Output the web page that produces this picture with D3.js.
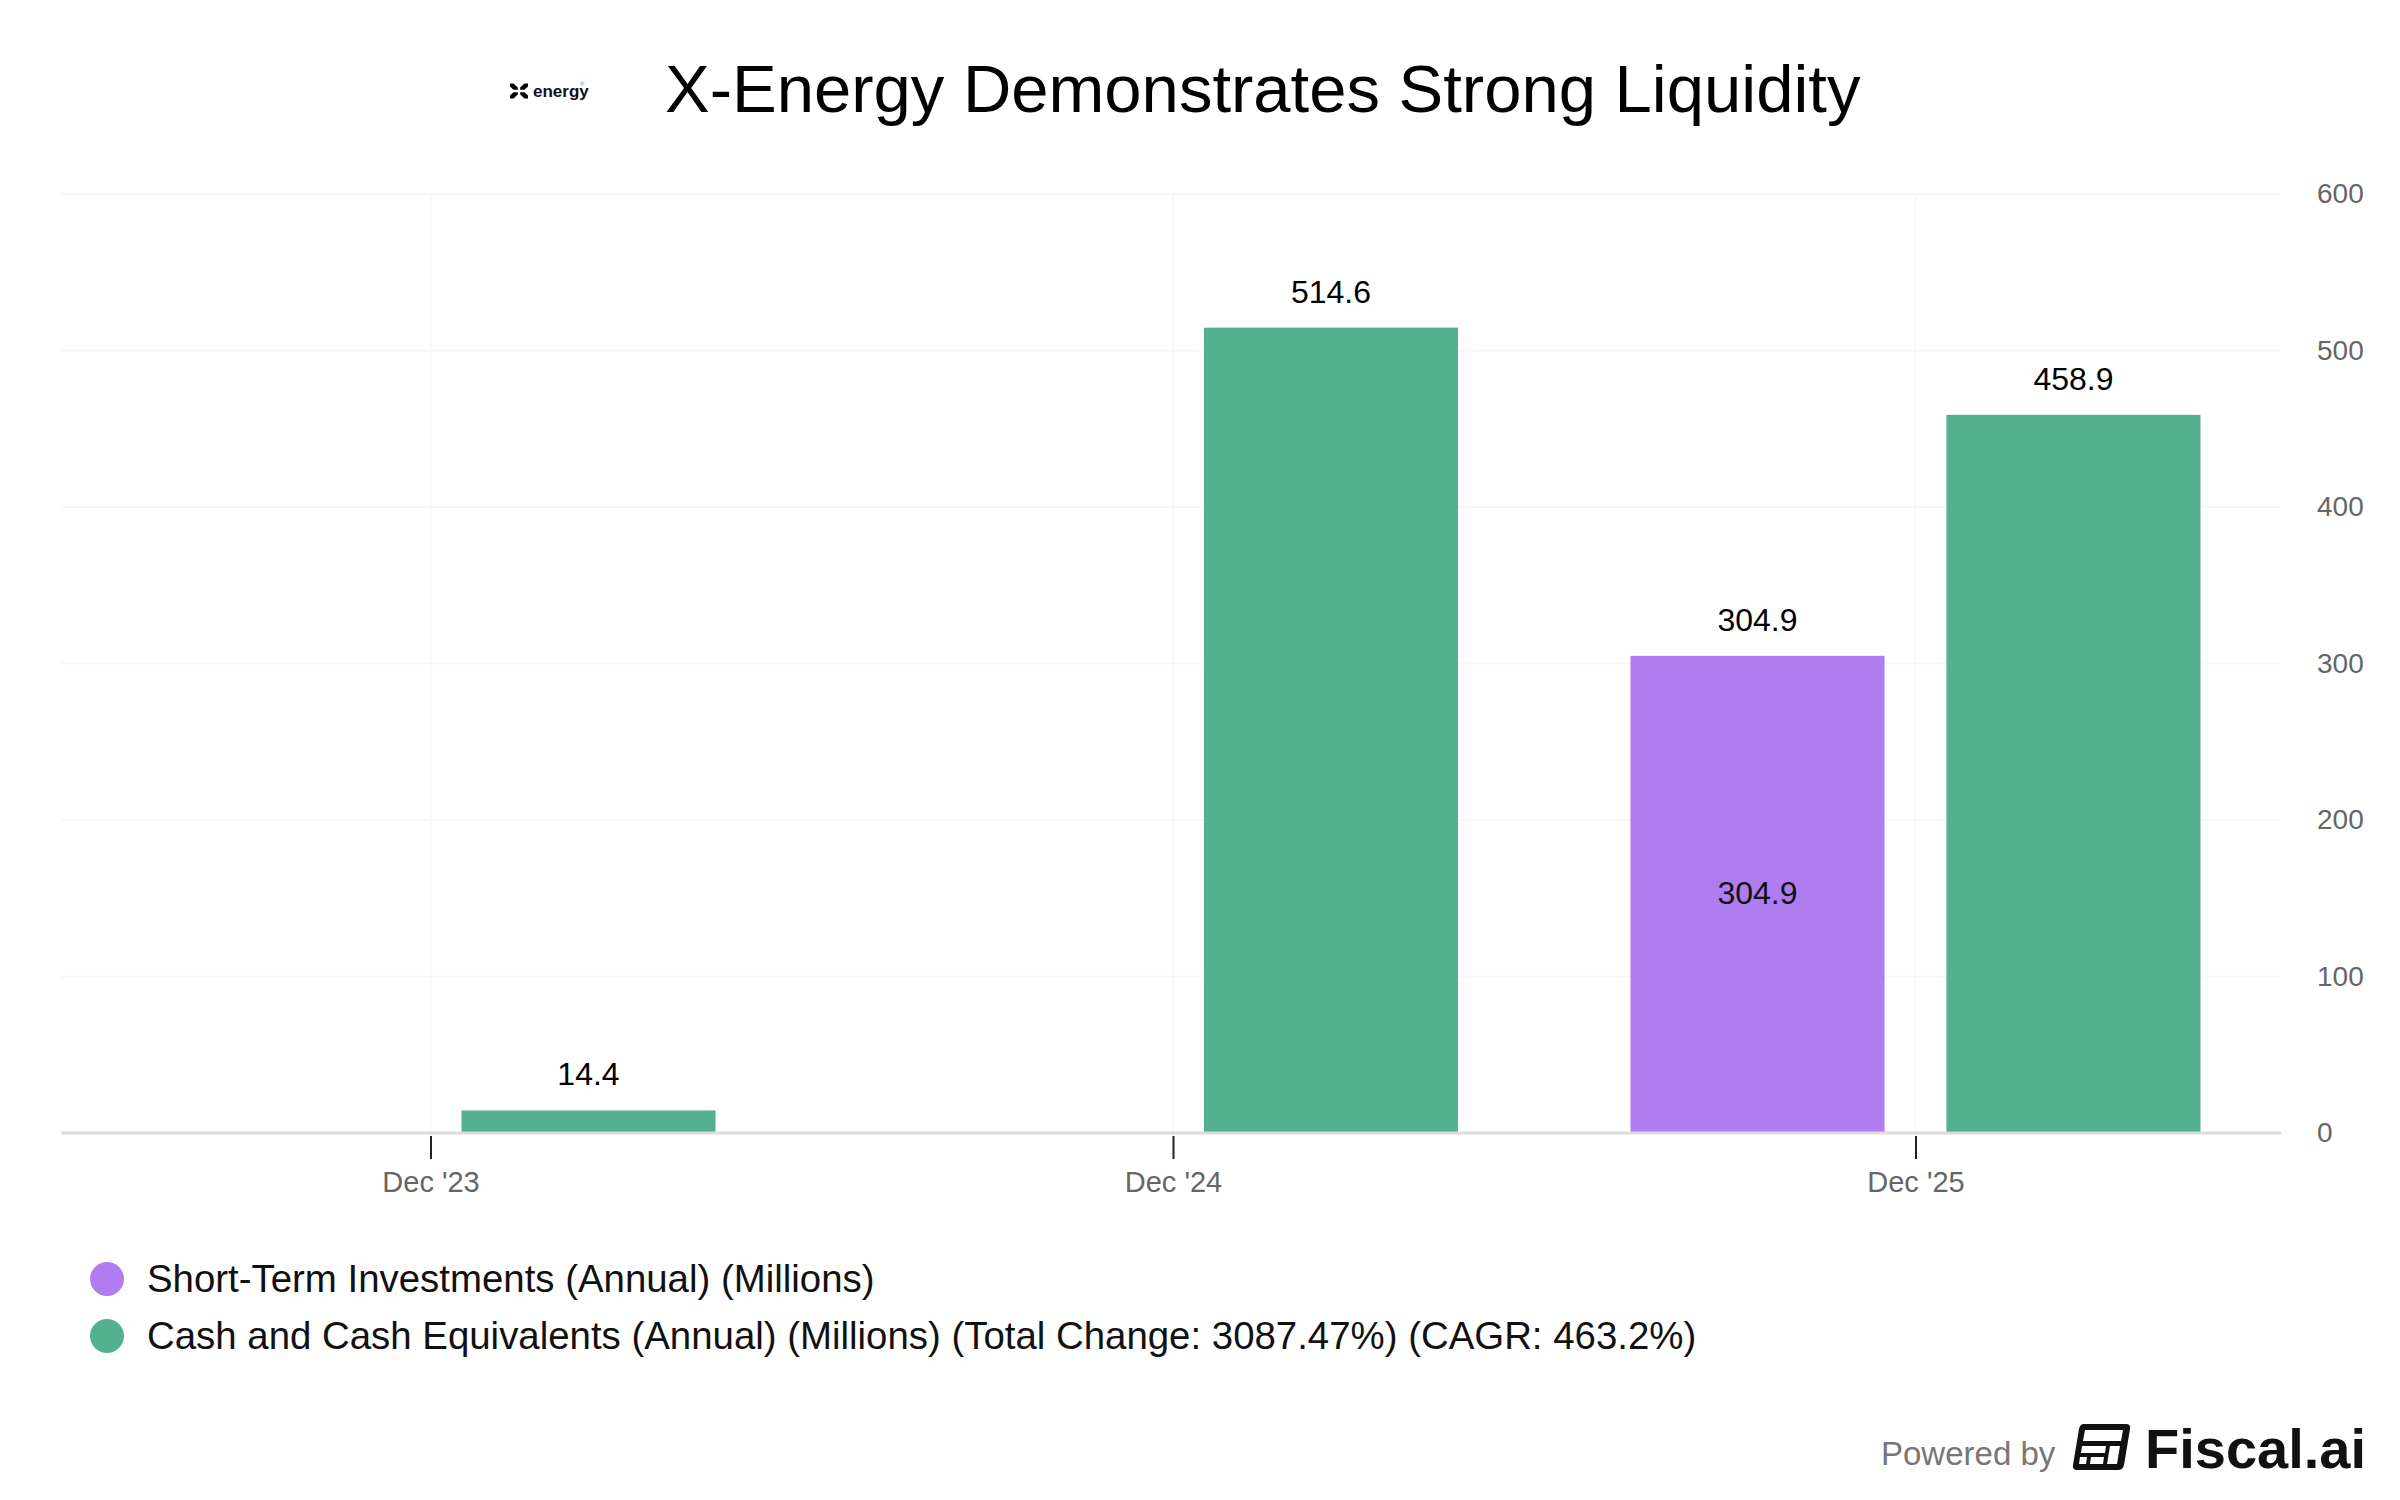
<!DOCTYPE html>
<html>
<head>
<meta charset="utf-8">
<script src="https://cdn.jsdelivr.net/npm/d3@7"></script>
<style>
  body { margin: 0; background: #fff; }
  svg { display: block; font-family: "Liberation Sans", Arial, Helvetica, sans-serif; }
</style>
</head>
<body>
<div id="chart"></div>
<script>
// chart data
const periods = ["Dec '23", "Dec '24", "Dec '25"];
const seriesNames = ['Short-Term Investments (Annual) (Millions)',
  'Cash and Cash Equivalents (Annual) (Millions) (Total Change: 3087.47%) (CAGR: 463.2%)'];
const shortTermValues = [null, null, 304.9];
const cashValues = [14.4, 514.6, 458.9];
const yTicks = [0, 100, 200, 300, 400, 500, 600];
const seriesColors = ['#af7def', '#53b18f'];

const W = 2400, H = 1500;
const margin = { top: 194, right: 119, bottom: 367, left: 61 };
const width = W - margin.left - margin.right;
const height = H - margin.top - margin.bottom;

const svg = d3.select('#chart').append('svg')
  .attr('width', W)
  .attr('height', H);

// title + logo
svg.append('text')
  .attr('x', 665)
  .attr('y', 112)
  .attr('font-size', 67)
  .attr('fill', '#000')
  .text('X-Energy Demonstrates Strong Liquidity');

const logo = svg.append('g').attr('transform', 'translate(519, 91)');
[[-1, -1], [1, -1], [-1, 1], [1, 1]].forEach(([sx, sy]) => {
  logo.append('path')
    .attr('d', `M${sx * 1.2},${sy * 1.2} L${sx * 5.5},${sy * 1.2} L${sx * 9},${sy * 4.5} L${sx * 9},${sy * 7.5} L${sx * 5.5},${sy * 7.5} L${sx * 1.2},${sy * 3.5} Z`)
    .attr('fill', '#000');
});
svg.append('text')
  .attr('x', 533).attr('y', 97)
  .attr('font-size', 17).attr('font-weight', 700)
  .attr('fill', '#111')
  .text('energy');
svg.append('text')
  .attr('x', 580).attr('y', 86)
  .attr('font-size', 6).attr('fill', '#777')
  .text('®');

const chart = svg.append('g')
  .attr('transform', `translate(${margin.left}, ${margin.top})`);

// scales
const x = d3.scalePoint()
  .domain(periods)
  .range([2, width + 2])
  .padding(0.495);
const inner = d3.scaleBand()
  .domain([0, 1])
  .range([-285, 285])
  .paddingInner(0.196);
const y = d3.scaleLinear()
  .domain([0, 600])
  .range([height, 0]);

// faint grid
chart.append('g')
  .selectAll('line')
  .data(yTicks.slice(1))
  .enter()
  .append('line')
  .attr('x1', 0).attr('x2', width)
  .attr('y1', d => y(d)).attr('y2', d => y(d))
  .attr('stroke', '#f7f7f7').attr('stroke-width', 2);
chart.append('g')
  .selectAll('line')
  .data(periods)
  .enter()
  .append('line')
  .attr('x1', d => x(d)).attr('x2', d => x(d))
  .attr('y1', 0).attr('y2', height)
  .attr('stroke', '#f8f8f8').attr('stroke-width', 2);

// bars
const rows = [];
periods.forEach((p, i) => {
  [shortTermValues[i], cashValues[i]].forEach((v, s) => {
    if (v != null) rows.push({ period: p, series: s, value: v });
  });
});

chart.selectAll('.bar')
  .data(rows)
  .enter()
  .append('rect')
  .attr('class', 'bar')
  .attr('x', d => x(d.period) + inner(d.series))
  .attr('y', d => y(d.value))
  .attr('width', inner.bandwidth())
  .attr('height', d => height - y(d.value))
  .style('fill', d => seriesColors[d.series]);

// value labels above bars
chart.selectAll('.val')
  .data(rows)
  .enter()
  .append('text')
  .attr('class', 'val')
  .attr('x', d => x(d.period) + inner(d.series) + inner.bandwidth() / 2)
  .attr('y', d => y(d.value) - 25)
  .attr('text-anchor', 'middle')
  .attr('font-size', 32)
  .attr('fill', '#000')
  .text(d => d.value.toFixed(1));

// inner label on the short-term bar
chart.selectAll('.inner-val')
  .data(rows.filter(d => d.series === 0))
  .enter()
  .append('text')
  .attr('class', 'inner-val')
  .attr('x', d => x(d.period) + inner(d.series) + inner.bandwidth() / 2)
  .attr('y', d => (y(d.value) + height) / 2)
  .attr('dy', '0.3em')
  .attr('text-anchor', 'middle')
  .attr('font-size', 32)
  .attr('fill', '#111')
  .text(d => d.value.toFixed(1));

// x axis
const xAxis = chart.append('g')
  .attr('transform', `translate(0, ${height})`)
  .call(d3.axisBottom(x).tickSize(0).tickPadding(0));
xAxis.select('.domain').remove();
xAxis.append('line')
  .attr('x1', 0).attr('x2', width)
  .attr('y1', 0).attr('y2', 0)
  .attr('stroke', '#dcdcdc').attr('stroke-width', 3);
xAxis.selectAll('.tick').append('line')
  .attr('y1', 3).attr('y2', 26)
  .attr('stroke', '#222').attr('stroke-width', 2);
xAxis.selectAll('.tick text')
  .attr('y', 49)
  .attr('dy', '0.35em')
  .attr('font-size', 29)
  .attr('font-family', 'inherit')
  .attr('fill', '#666');

// y axis on the right
const yAxis = chart.append('g')
  .attr('transform', `translate(${width + 36}, 0)`)
  .call(d3.axisRight(y).tickValues(yTicks).tickSize(0).tickPadding(0));
yAxis.select('.domain').remove();
yAxis.selectAll('.tick text')
  .attr('font-size', 28)
  .attr('font-family', 'inherit')
  .attr('fill', '#666');

// legend
const legend = svg.append('g')
  .selectAll('g')
  .data(seriesNames)
  .enter()
  .append('g')
  .attr('transform', (d, i) => `translate(107, ${1279 + i * 57})`);
legend.append('circle')
  .attr('r', 17)
  .attr('fill', (d, i) => seriesColors[i]);
legend.append('text')
  .attr('x', 40)
  .attr('dy', '0.35em')
  .attr('font-size', 38.4)
  .attr('fill', '#111')
  .text(d => d);

// footer
svg.append('text')
  .attr('x', 1881).attr('y', 1465)
  .attr('font-size', 33)
  .attr('fill', '#777')
  .text('Powered by');
const icon = svg.append('g').attr('transform', 'translate(2074, 1424)');
icon.append('path')
  .attr('d', 'M10,0 H52 Q57,0 56,5 L50,41 Q49,46 44,46 H3 Q-2,46 -1,41 L5,5 Q6,0 10,0 Z')
  .attr('fill', '#111');
icon.append('path').attr('d', 'M11,6 H49 L47,17 H9 Z').attr('fill', '#fff');
icon.append('path').attr('d', 'M8,22 H32 L31,29 H7 Z').attr('fill', '#fff');
icon.append('path').attr('d', 'M6,33 H13 L12,40 H5 Z').attr('fill', '#fff');
icon.append('path').attr('d', 'M17,33 H30 L29,40 H16 Z').attr('fill', '#fff');
icon.append('path').attr('d', 'M36,22 H46 L43,40 H33 Z').attr('fill', '#fff');
svg.append('text')
  .attr('x', 2145).attr('y', 1468)
  .attr('font-size', 56)
  .attr('font-weight', 600)
  .attr('fill', '#111')
  .text('Fiscal.ai');
</script>
</body>
</html>
